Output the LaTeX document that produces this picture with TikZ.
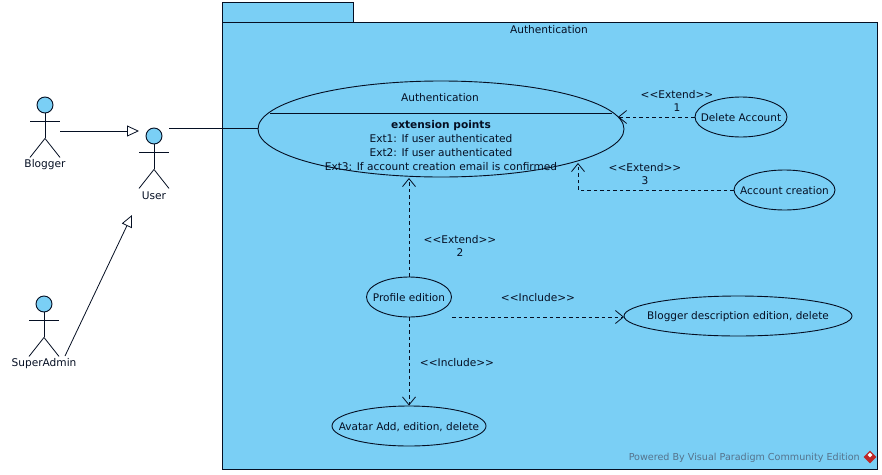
\documentclass[tikz,border=0pt]{standalone}
\usepackage{fontspec}
\setmainfont{DejaVu Sans}
\usetikzlibrary{shapes.geometric,arrows.meta,calc}
\definecolor{ucfill}{RGB}{122,207,245}
\definecolor{ink}{RGB}{5,15,35}
\definecolor{wm}{RGB}{85,115,140}
\tikzset{
  x=1pt,y=-1pt,
  pkg/.style={draw=ink,fill=ucfill,line width=1pt},
  usecase/.style={draw=ink,line width=.9pt,ellipse,inner sep=0pt,text=ink},
  uctext/.style={label={[text=ink,inner sep=0pt,yshift=-.8pt,font=\fontsize{10.5}{12}\selectfont]center:#1}},
  lbl/.style={text=ink,align=center,inner sep=0pt,font=\fontsize{10.6}{13}\selectfont},
  head/.style={circle,draw=ink,fill=ucfill,line width=.9pt,minimum size=16pt,inner sep=0pt},
  limb/.style={draw=ink,line width=.8pt},
  gen/.style={draw=ink,line width=.8pt,-{Triangle[open,length=12pt,width=11pt,fill=white]}},
  assoc/.style={draw=ink,line width=.8pt},
  dep/.style={draw=ink,line width=.8pt,dash pattern=on 3.5pt off 3pt,-{Straight Barb[length=8pt,width=13pt,line width=.8pt]}},
}
\newcommand{\stick}[4]{% name, x, y of head centre, label
  \node[head] (#1) at (#2,#3) {};
  \draw[limb] (#1.south) -- ++(0,25) coordinate (#1hip);
  \draw[limb] ($(#1.south)+(-15,8)$) -- ++(30,0);
  \draw[limb] (#1hip) -- ++(-15,19);
  \draw[limb] (#1hip) -- ++(15,19);
  \node[lbl] (#1label) at (#2,#3+60) {#4};
}
\begin{document}
\begin{tikzpicture}
\useasboundingbox (0,0) rectangle (882,474);
\fill[white] (0,0) rectangle (882,474);
% package
\node[pkg,draw,minimum width=131pt,minimum height=20pt,inner sep=0pt,anchor=north west] (tab) at (222,2) {};
\node[pkg,draw,minimum width=655pt,minimum height=447pt,inner sep=0pt,anchor=north west] (package) at (222,22) {};
\node[lbl] (pkgtitle) at (549,30) {Authentication};
% use cases
\node[usecase,minimum width=366pt,minimum height=96pt] (auth) at (441,129) {};
\path (auth.center) ++(-171,-16) coordinate (splitL) ++(342,0) coordinate (splitR);
\draw[assoc] (splitL) -- (splitR);
\node[lbl] (authtitle) at (440,98) {Authentication};
\node[lbl,font=\fontsize{10.6}{14}\selectfont] (ext) at (441,145.5) {\textbf{extension points}\\Ext1: If user authenticated\\Ext2: If user authenticated\\Ext3: If account creation email is confirmed};
\node[usecase,minimum width=92pt,minimum height=40pt,uctext={Delete Account}] (delete) at (741,117) {};
\node[usecase,minimum width=101pt,minimum height=40pt,uctext={Account creation}] (create) at (784.5,190) {};
\node[usecase,minimum width=85pt,minimum height=40pt,uctext={Profile edition}] (profile) at (409,297) {};
\node[usecase,minimum width=228pt,minimum height=40pt,uctext={Blogger description edition, delete}] (desc) at (738,316) {};
\node[usecase,minimum width=154pt,minimum height=40pt,uctext={Avatar Add, edition, delete}] (avatar) at (409,426) {};
% actors
\stick{blogger}{45}{105}{Blogger}
\stick{user}{154}{136}{User}
\stick{admin}{44}{304}{SuperAdmin}
% connectors
\coordinate (bloggerR) at (60,131);
\coordinate (userL) at (139,131);
\coordinate (adminR) at (65,356);
\coordinate (userB) at (132,215);
\coordinate (userR) at (169,128);
\draw[gen] (bloggerR) -- (userL);
\draw[gen] (adminR) -- (userB);
\draw[assoc] (userR) -- (auth.west |- userR);
\coordinate (authD) at (618,117);
\draw[dep] (delete.west) -- (authD);
\coordinate (authC) at (578,163);
\draw[dep] (create.west) -- (authC |- create.west) -- (authC);
\coordinate (authP) at (409,178);
\draw[dep] (profile.north) -- (authP);
\coordinate (profR) at (452,317);
\coordinate (descL) at (624,317);
\draw[dep] (profR) -- (descL);
\draw[dep] (profile.south) -- (avatar.north);
% labels
\node[lbl] (l1) at (677,101) {<{}<Extend>{}>\\1};
\node[lbl] (l2) at (645,174) {<{}<Extend>{}>\\3};
\node[lbl] (l3) at (460,246) {<{}<Extend>{}>\\2};
\node[lbl] (l4) at (538,298) {<{}<Include>{}>};
\node[lbl] (l5) at (457,363) {<{}<Include>{}>};
% watermark
\node[anchor=east,inner sep=0pt,text=wm,font=\fontsize{9.6}{11}\selectfont] (wmark) at (860,458) {Powered By Visual Paradigm Community Edition};
\node[diamond,fill=red!70!black!85,minimum size=13pt,inner sep=0pt] (logo) at (870,457) {};
\node[diamond,fill=white,minimum size=5pt,inner sep=0pt] (logoin) at (870,455) {};
\end{tikzpicture}
\end{document}
